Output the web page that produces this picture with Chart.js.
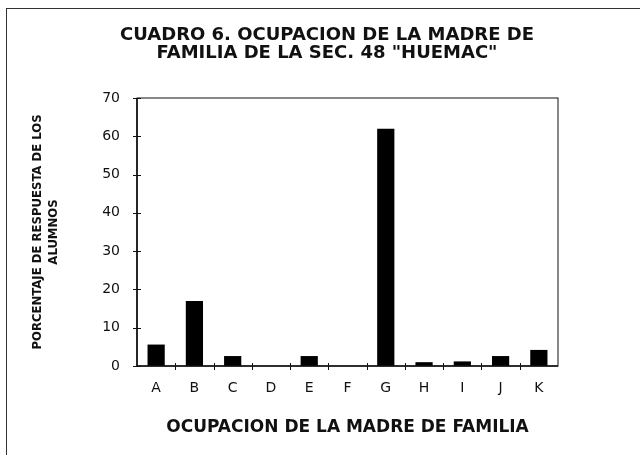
<!DOCTYPE html>
<html>
<head>
  <title>Cuadro 6</title>
  <script src="https://cdn.jsdelivr.net/npm/chart.js"></script>
  <style>
    body { margin: 0; background: #fff; }
    #wrap { position: relative; width: 640px; height: 455px; }
    #frame { position: absolute; left: 6px; top: 8px; right: 0; bottom: 0;
             border-left: 1px solid #333; border-top: 1px solid #333; pointer-events: none; }
  </style>
</head>
<body>
  <div id="wrap">
    <canvas id="myChart" width="640" height="455"></canvas>
    <div id="frame"></div>
  </div>

  <script>
    const categories = ['A', 'B', 'C', 'D', 'E', 'F', 'G', 'H', 'I', 'J', 'K'];
    const porcentajes = [5.6, 17, 2.6, 0, 2.6, 0, 62, 1, 1.2, 2.6, 4.2];
    const yTicks = [0, 10, 20, 30, 40, 50, 60, 70];

    const titleLines = ['CUADRO 6. OCUPACION DE LA MADRE DE', 'FAMILIA DE LA SEC. 48 "HUEMAC"'];
    const yTitle = ['PORCENTAJE DE RESPUESTA DE LOS', 'ALUMNOS'];
    const xTitle = 'OCUPACION DE LA MADRE DE FAMILIA';

    // box round the plot plus little tick marks that cross the axes
    const plotFrame = {
      id: 'plotFrame',
      afterDatasetsDraw(chart) {
        const { ctx, chartArea: a, scales } = chart;
        ctx.save();
        ctx.strokeStyle = '#111';
        ctx.lineWidth = 1;
        ctx.strokeRect(a.left, a.top, a.right - a.left, a.bottom - a.top);
        ctx.lineWidth = 1.6;
        ctx.beginPath();
        ctx.moveTo(a.left, a.top); ctx.lineTo(a.left, a.bottom); ctx.lineTo(a.right, a.bottom);
        ctx.stroke();
        ctx.lineWidth = 1;
        scales.y.ticks.forEach((t) => {
          const py = Math.round(scales.y.getPixelForValue(t.value)) + 0.5;
          ctx.beginPath(); ctx.moveTo(a.left - 4, py); ctx.lineTo(a.left + 4, py); ctx.stroke();
        });
        const w = (scales.x.right - scales.x.left) / categories.length;
        for (let i = 1; i < categories.length; i++) {
          const px = Math.round(scales.x.left + i * w) + 0.5;
          ctx.beginPath(); ctx.moveTo(px, a.bottom - 3); ctx.lineTo(px, a.bottom + 4); ctx.stroke();
        }
        ctx.restore();
      }
    };

    const ctx = document.getElementById('myChart').getContext('2d');
    const myChart = new Chart(ctx, {
      type: 'bar',
      data: {
        labels: categories,
        datasets: [{
          data: porcentajes,
          backgroundColor: '#000',
          borderWidth: 0,
          categoryPercentage: 1,
          barPercentage: 0.45
        }]
      },
      plugins: [plotFrame],
      options: {
        responsive: false,
        animation: false,
        layout: { padding: { left: 14, right: 0, top: 0, bottom: 0 } },
        plugins: {
          legend: { display: false },
          tooltip: { enabled: false },
          title: {
            display: true,
            text: titleLines,
            color: '#111',
            font: { family: 'DejaVu Sans', size: 18, weight: 'bold', lineHeight: 1.0 },
            padding: { top: 26, bottom: 36 }
          }
        },
        scales: {
          x: {
            afterFit: (s) => { s.height = 89; },
            grid: { display: false, drawTicks: false },
            border: { display: false },
            ticks: { color: '#111', padding: 14, font: { family: 'DejaVu Sans', size: 14 } },
            title: {
              display: true,
              text: xTitle,
              color: '#111',
              font: { family: 'DejaVu Sans', size: 17, weight: 'bold', lineHeight: 1.2 },
              padding: { top: 0, bottom: 17 }
            }
          },
          y: {
            min: 0,
            max: 70,
            afterFit: (s) => { s.width = 123; },
            afterBuildTicks: (s) => { s.ticks = yTicks.map((v) => ({ value: v })); },
            grid: { display: false, drawTicks: false },
            border: { display: false },
            ticks: { color: '#111', padding: 17, font: { family: 'DejaVu Sans', size: 14 } },
            title: {
              display: true,
              text: yTitle,
              color: '#111',
              font: { family: "'DejaVu Sans Condensed', 'DejaVu Sans', sans-serif", size: 13, weight: 'bold', lineHeight: 1.2 },
              padding: { top: 16, bottom: 0 }
            }
          },
          yr: {
            position: 'right',
            afterFit: (s) => { s.width = 82; },
            grid: { display: false },
            border: { display: false },
            ticks: { display: false }
          }
        }
      }
    });
  </script>
</body>
</html>
